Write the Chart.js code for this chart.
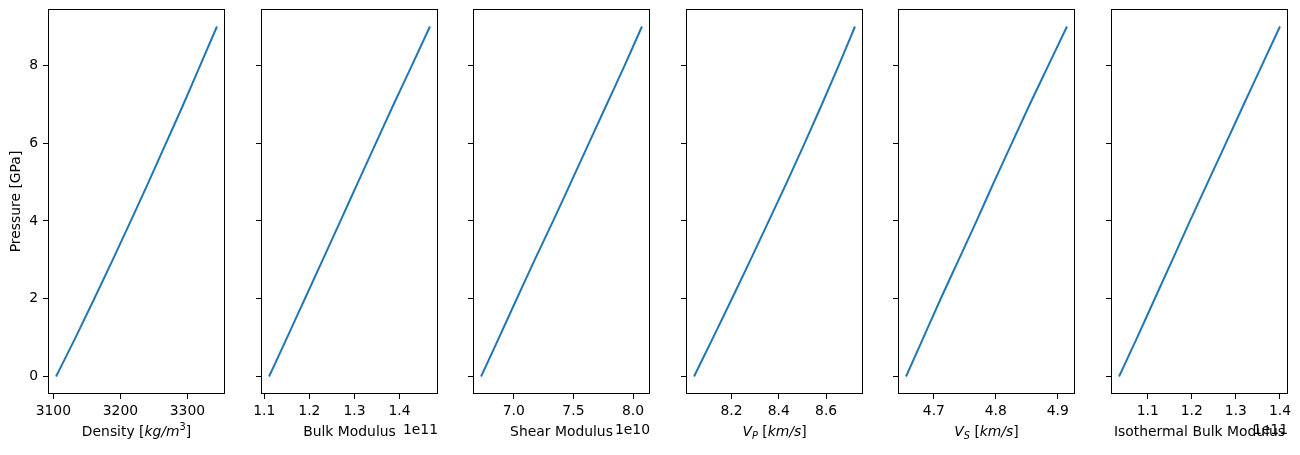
<!DOCTYPE html>
<html>
<head>
<meta charset="utf-8">
<script src="https://cdn.jsdelivr.net/npm/chart.js@4.4.0/dist/chart.umd.min.js"></script>
<style>
  body { margin: 0; background: #fff; }
  #fig { position: relative; width: 1300px; height: 455px; overflow: hidden; }
  .panel { position: absolute; top: 0; }
</style>
</head>
<body>
<div id="fig"></div>
<script>
// values (pressure in GPa)
const pressure = [0, 1, 2, 3, 4, 5, 6, 7, 8, 9];
const density = [3104, 3133, 3161, 3188.5, 3215.5, 3242, 3268, 3294, 3319, 3344]; // kg/m3
const bulkModulus = [1.1105e11, 1.1505e11, 1.19e11, 1.2295e11, 1.269e11, 1.308e11, 1.3475e11, 1.387e11, 1.4275e11, 1.4675e11];
const shearModulus = [6.725e10, 6.876e10, 7.025e10, 7.175e10, 7.33e10, 7.48e10, 7.63e10, 7.78e10, 7.93e10, 8.075e10];
const vp = [8.042, 8.1225, 8.202, 8.2805, 8.358, 8.4345, 8.5095, 8.5825, 8.6535, 8.722]; // km/s
const vs = [4.655, 4.683, 4.711, 4.74, 4.769, 4.797, 4.826, 4.855, 4.885, 4.915]; // km/s
const isothermalBulkModulus = [1.035e11, 1.076e11, 1.116e11, 1.156e11, 1.196e11, 1.2365e11, 1.2775e11, 1.318e11, 1.359e11, 1.4e11];

// tick values
const pressureTicks = [0, 2, 4, 6, 8];
const densityTicks = [3100, 3200, 3300];
const bulkTicks = [1.1e11, 1.2e11, 1.3e11, 1.4e11];
const shearTicks = [7.0e10, 7.5e10, 8.0e10];
const vpTicks = [8.2, 8.4, 8.6];
const vsTicks = [4.7, 4.8, 4.9];
const isoTicks = [1.1e11, 1.2e11, 1.3e11, 1.4e11];

const FONT = '"DejaVu Sans", sans-serif';
const FS = 13.9;

const panels = [
  { x: density, ticks: densityTicks, fmt: v => String(v),
    label: [["Density [", "n"], ["kg/m", "i"], ["3", "sup"], ["]", "n"]] },
  { x: bulkModulus, ticks: bulkTicks, fmt: v => (v / 1e11).toFixed(1), offset: "1e11",
    label: [["Bulk Modulus", "n"]] },
  { x: shearModulus, ticks: shearTicks, fmt: v => (v / 1e10).toFixed(1), offset: "1e10",
    label: [["Shear Modulus", "n"]] },
  { x: vp, ticks: vpTicks, fmt: v => v.toFixed(1),
    label: [["V", "i"], ["P", "sub"], [" [", "n"], ["km/s", "i"], ["]", "n"]] },
  { x: vs, ticks: vsTicks, fmt: v => v.toFixed(1),
    label: [["V", "i"], ["S", "sub"], [" [", "n"], ["km/s", "i"], ["]", "n"]] },
  { x: isothermalBulkModulus, ticks: isoTicks, fmt: v => (v / 1e11).toFixed(1), offset: "1e11",
    label: [["Isothermal Bulk Modulus", "n"]] },
];

const panelLefts = [48, 261, 473, 686, 898, 1111];
const AXW = 48, PADR = 14, TOP = 9, XAXH = 61;

function partFont(kind) {
  const ital = (kind === "i" || kind === "sub") ? "italic " : "";
  const size = (kind === "sub" || kind === "sup") ? FS * 0.7 : FS;
  return ital + size + "px " + FONT;
}

function drawRich(ctx, parts, cx, cy) {
  let total = 0;
  parts.forEach(p => { ctx.font = partFont(p[1]); total += ctx.measureText(p[0]).width; });
  let x = cx - total / 2;
  const baseline = cy + FS * 0.36;
  ctx.textBaseline = "alphabetic";
  ctx.textAlign = "left";
  parts.forEach(p => {
    ctx.font = partFont(p[1]);
    const dy = p[1] === "sub" ? FS * 0.22 : p[1] === "sup" ? -FS * 0.42 : 0;
    ctx.fillText(p[0], x, baseline + dy);
    x += ctx.measureText(p[0]).width;
  });
}

function limits(arr) {
  const lo = Math.min(...arr), hi = Math.max(...arr);
  const m = (hi - lo) * 0.05;
  return [lo - m, hi + m];
}

const fig = document.getElementById("fig");
const [yMin, yMax] = limits(pressure);

panels.forEach((p, i) => {
  const div = document.createElement("div");
  div.className = "panel";
  const w = AXW + 177 + PADR;
  div.style.left = (panelLefts[i] - AXW) + "px";
  div.style.width = w + "px";
  div.style.height = "455px";
  const canvas = document.createElement("canvas");
  canvas.width = w;
  canvas.height = 455;
  div.appendChild(canvas);
  fig.appendChild(div);

  const [xMin, xMax] = limits(p.x);

  const framePlugin = {
    id: "frame" + i,
    afterDraw(chart) {
      const ctx = chart.ctx;
      const a = chart.chartArea;
      ctx.save();
      ctx.strokeStyle = "#000";
      ctx.lineWidth = 1;
      ctx.strokeRect(Math.round(a.left) + 0.5, Math.round(a.top) + 0.5,
        Math.round(a.right - a.left) - 1, Math.round(a.bottom - a.top) - 1);
      ctx.fillStyle = "#000";
      const cx = (a.left + a.right) / 2;
      drawRich(ctx, p.label, cx, 431);
      if (p.offset) {
        ctx.font = FS + "px " + FONT;
        ctx.textAlign = "right";
        ctx.textBaseline = "middle";
        ctx.fillText(p.offset, a.right, 430);
      }
      if (i === 0) {
        ctx.translate(16, (a.top + a.bottom) / 2);
        ctx.rotate(-Math.PI / 2);
        ctx.font = FS + "px " + FONT;
        ctx.textAlign = "center";
        ctx.textBaseline = "middle";
        ctx.fillText("Pressure [GPa]", 0, 0);
      }
      ctx.restore();
    }
  };

  new Chart(canvas, {
    type: "scatter",
    data: {
      datasets: [{
        data: pressure.map((v, k) => ({ x: p.x[k], y: v })),
        showLine: true,
        borderColor: "#1f77b4",
        borderWidth: 2,
        pointRadius: 0,
        cubicInterpolationMode: "monotone",
        fill: false,
      }],
    },
    options: {
      responsive: false,
      animation: false,
      events: [],
      layout: { padding: { left: 0, top: TOP, right: PADR, bottom: 0 } },
      plugins: { legend: { display: false }, tooltip: { enabled: false } },
      scales: {
        x: {
          type: "linear",
          min: xMin,
          max: xMax,
          afterFit: s => { s.height = XAXH; s.paddingLeft = 0; s.paddingRight = 0; },
          afterBuildTicks: s => { s.ticks = p.ticks.map(v => ({ value: v })); },
          ticks: {
            callback: v => p.fmt(v),
            padding: 4,
            maxRotation: 0,
            autoSkip: false,
            color: "#000",
            font: { family: FONT, size: FS },
          },
          grid: { drawOnChartArea: false, drawTicks: true, tickLength: 5, color: "#000", tickColor: "#000", lineWidth: 1 },
          border: { display: false },
        },
        y: {
          type: "linear",
          min: yMin,
          max: yMax,
          afterFit: s => { s.width = AXW; s.paddingTop = 0; s.paddingBottom = 0; },
          afterBuildTicks: s => { s.ticks = pressureTicks.map(v => ({ value: v })); },
          ticks: {
            callback: v => (i === 0 ? String(v) : ""),
            padding: 5,
            autoSkip: false,
            color: "#000",
            font: { family: FONT, size: FS },
          },
          grid: { drawOnChartArea: false, drawTicks: true, tickLength: 5, color: "#000", tickColor: "#000", lineWidth: 1 },
          border: { display: false },
        },
      },
    },
    plugins: [framePlugin],
  });
});
</script>
</body>
</html>
